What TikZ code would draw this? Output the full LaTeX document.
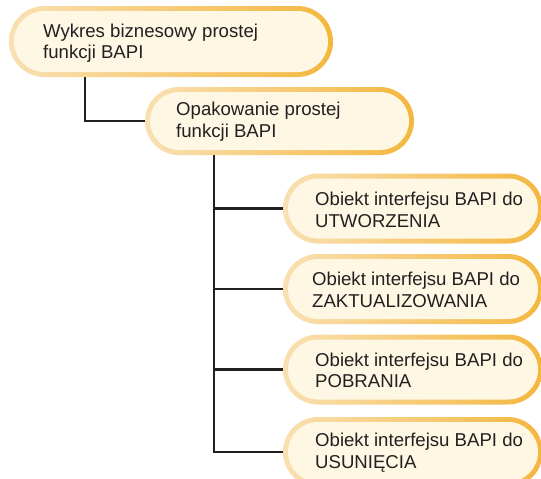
\documentclass[tikz,border=0pt]{standalone}
\usepackage{fontspec}
\setmainfont{Liberation Sans}
\usetikzlibrary{shapes.misc}
\definecolor{cream}{HTML}{FEF7E4}
\definecolor{bpale}{HTML}{F9E0B2}
\definecolor{bdeep}{HTML}{F4B73F}
\definecolor{ink}{HTML}{231F20}
\newcommand\pillbox[7]{%
  \node[pill, minimum width=#4pt, minimum height=#5pt] (#1) at (#2,#3) {};
  \node[pillin, minimum width=#6pt, minimum height=#7pt] (#1in) at (#1.center) {};}
\begin{document}
\begin{tikzpicture}[x=1pt,y=-1pt,
  pill/.style={rounded rectangle, left color=bpale, right color=bdeep, inner sep=0pt, outer sep=0pt},
  pillin/.style={rounded rectangle, fill=cream, inner sep=0pt, outer sep=0pt},
  lbl/.style={anchor=west, align=left, inner sep=0pt, text=ink, font=\fontsize{18.6}{21.5}\selectfont},
  link/.style={draw=ink, line width=2.4pt}]
\useasboundingbox (0,0) rectangle (541,479);
\clip (0,0) rectangle (541,479);
\fill[white] (0,0) rectangle (541,479);
\pillbox{b1}{171}{41.5}{324}{71}{314}{61}
\pillbox{b2}{279.5}{121}{269}{68}{259}{58}
\pillbox{b3}{413}{208.5}{260}{70}{250}{60}
\pillbox{b4}{413}{289}{260}{70}{250}{60}
\pillbox{b5}{413}{369.5}{260}{70}{250}{60}
\pillbox{b6}{413}{452}{260}{70}{250}{60}
\node[lbl] (t1) at (43,43) {Wykres biznesowy prostej\\funkcji BAPI};
\node[lbl] (t2) at (176,121.5) {Opakowanie prostej\\funkcji BAPI};
\node[lbl] (t3) at (315,210) {Obiekt interfejsu BAPI do\\UTWORZENIA};
\node[lbl] (t4) at (312,290) {Obiekt interfejsu BAPI do\\ZAKTUALIZOWANIA};
\node[lbl] (t5) at (315,370.5) {Obiekt interfejsu BAPI do\\POBRANIA};
\node[lbl] (t6) at (315,452.5) {Obiekt interfejsu BAPI do\\USUNIĘCIA};
\coordinate (k1) at (85,0);
\coordinate (k2) at (214,0);
\draw[link] (b1.south -| k1) |- (b2.west);
\draw[link] (b2.south -| k2) |- (b6.west);
\draw[link] (b2.south -| k2) |- (b3.west);
\draw[link] (b2.south -| k2) |- (b4.west);
\draw[link] (b2.south -| k2) |- (b5.west);
\end{tikzpicture}
\end{document}
